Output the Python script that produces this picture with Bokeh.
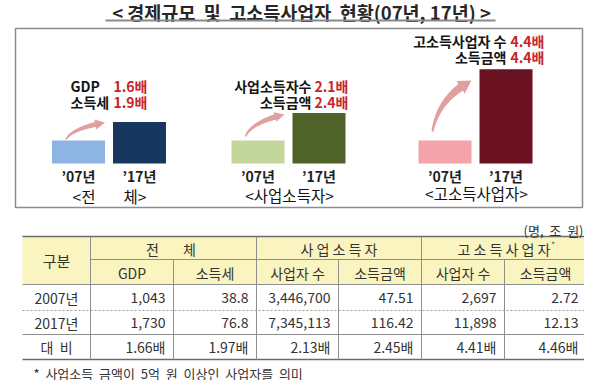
import numpy as np
from bokeh.plotting import figure
from bokeh.models import Range1d
from bokeh.core.properties import value
from bokeh.embed import file_html
from bokeh.resources import INLINE

S = "\u00a0"  # non-collapsing space

# ---------------- data ----------------
title = "<" + S + "경제규모" + S * 2 + "및" + S * 2 + "고소득사업자" + S * 2 + "현황(07년," + S + "17년)" + S + ">"
panel_captions = [["<전", "체>"], "<사업소득자>", "<고소득사업자>"]
year_labels = ["’07년", "’17년"]
bar_2007 = [1.0, 1.0, 1.0]          # relative size, 2007 = 1
bar_2017 = [1.8, 2.2, 4.1]
panel_items = [["GDP", "소득세"], ["사업소득자수", "소득금액"], ["고소득사업자" + S + "수", "소득금액"]]
panel_ratios = [["1.6배", "1.9배"], ["2.1배", "2.4배"], ["4.4배", "4.4배"]]

row_labels = ["2007년", "2017년", "대" + S * 2 + "비"]
corner_header = "구분"
group_headers = [["전", "체"], S.join("사업소득자"), S.join("고소득사업자")]
sub_headers = ["GDP", "소득세", "사업자" + S + "수", "소득금액", "사업자" + S + "수", "소득금액"]
gdp = [1043, 1730]
income_tax = [38.8, 76.8]
biz_count = [3446700, 7345113]
biz_income = [47.51, 116.42]
high_count = [2697, 11898]
high_income = [2.72, 12.13]
ratios = [1.66, 1.97, 2.13, 2.45, 4.41, 4.46]
unit_note = "(명," + S * 2 + "조" + S * 2 + "원)"
footnote = (S * 2).join(["*", "사업소득", "금액이", "5억", "원", "이상인", "사업자를", "의미"])

# ---------------- styles / layout ----------------
FONT = "Noto Sans CJK KR"
bar_colors_07 = ["#8EB4E3", "#C3D69B", "#F4A3AB"]
bar_colors_17 = ["#17375E", "#4F6228", "#6A1122"]
RED = "#C8242B"
ARROW = "#DFA0A0"
HEAD_FILL = "#FAF4C0"

W, H = 584, 380
X0, Y0 = 2, 2
p = figure(width=W, height=H, x_range=Range1d(X0, X0 + W), y_range=Range1d(Y0 + H, Y0),
           output_backend="svg", toolbar_location=None,
           x_axis_location=None, y_axis_location=None, min_border=0)
p.outline_line_color = None
p.grid.visible = False
p.background_fill_color = "white"

BASE, UNIT = 165.0, 23.0
p.extra_y_ranges = {"bars": Range1d(start=(BASE - (Y0 + H)) / UNIT, end=(BASE - Y0) / UNIT)}


def txt(x, y, t, size="14px", align="center", color="#222222", bold=False,
        baseline="middle"):
    p.text(x=x, y=y, text=t, text_font=value(FONT), text_font_size=size,
           text_align=align, text_baseline=baseline, text_color=color,
           text_font_style="bold" if bold else "normal")


# title
txt([303], [13.5], [title], size="18.5px", bold=True, color="#262626")
p.segment(x0=[107], y0=[22], x1=[497], y1=[22], line_color="#8a8a8a", line_width=2)

# frame of the top area
p.quad(left=[17], right=[584], top=[30], bottom=[209], fill_color=None,
       line_color="#8c8c8c", line_width=1.5)

# ---------------- panels ----------------
panel_cx = [110.5, 290.0, 477.0]
bar_off, bar_w = 30.5, 53
year_y = 177
caption_y = [197, 196, 194]
label_y = [[87, 103], [87, 103], [42, 58]]
label_x = [72, 313, 508]
label_align = ["left", "right", "right"]
value_x = [115, 316, 512]
tail_y = [141, 138, 133]
tip_y = [124, 116, 82]
arrow_w = [(1.5, 5, 10, 10), (1.5, 5.5, 10, 10), (2, 8, 13, 15)]


def arrow_polygon(p0, p2, w0, w1, hl, hw):
    p0 = np.array(p0, float)
    p2 = np.array(p2, float)
    d = p2 - p0
    p1 = np.array([p0[0] + 0.15 * d[0], p2[1] + 0.35 * (p0[1] - p2[1])])
    t = np.linspace(0, 1, 300)
    B = ((1 - t) ** 2)[:, None] * p0 + (2 * (1 - t) * t)[:, None] * p1 + (t ** 2)[:, None] * p2
    dist = np.linalg.norm(B - p2, axis=1)
    k = int(np.argmax(dist < hl))
    Sg = B[:k + 1]
    tang = np.gradient(Sg, axis=0)
    tang /= np.linalg.norm(tang, axis=1)[:, None]
    n = np.stack([-tang[:, 1], tang[:, 0]], axis=1)
    w = np.linspace(w0, w1, len(Sg))[:, None]
    L = Sg + n * w / 2
    R = Sg - n * w / 2
    base = Sg[-1]
    dv = (p2 - base) / np.linalg.norm(p2 - base)
    nh = np.array([-dv[1], dv[0]])
    poly = np.vstack([L, base + nh * hw / 2, p2, base - nh * hw / 2, R[::-1]])
    return list(poly[:, 0]), list(poly[:, 1])


xs07 = [c - bar_off for c in panel_cx]
xs17 = [c + bar_off for c in panel_cx]
p.vbar(x=xs07, width=bar_w, bottom=0, top=bar_2007, y_range_name="bars",
       fill_color=bar_colors_07, line_color=None)
p.vbar(x=xs17, width=bar_w, bottom=0, top=bar_2017, y_range_name="bars",
       fill_color=bar_colors_17, line_color=None)

axs, ays = [], []
for i, cx in enumerate(panel_cx):
    tail = (cx - bar_off - 12.5, tail_y[i])
    tip = (cx - bar_off + bar_w / 2, tip_y[i])
    ax, ay = arrow_polygon(tail, tip, *arrow_w[i])
    axs.append(ax)
    ays.append(ay)
p.patches(xs=axs, ys=ays, fill_color=ARROW, line_color=None)

for i, cx in enumerate(panel_cx):
    txt([xs07[i], xs17[i]], [year_y, year_y], year_labels, size="14px", bold=True, color="#1e1e1e")
    cap = panel_captions[i]
    if isinstance(cap, list):
        txt([cx - 25, cx + 26], [caption_y[i]] * 2, cap, size="15.5px", color="#111111")
    else:
        txt([cx + 1], [caption_y[i]], [cap], size="15.5px", color="#111111")
    txt([label_x[i]] * 2, label_y[i], panel_items[i], size="14px", align=label_align[i],
        bold=True, color="#151515")
    txt([value_x[i]] * 2, label_y[i], panel_ratios[i], size="14px", align="left",
        bold=True, color=RED)

# ---------------- table ----------------
TX = [24, 92, 175, 258, 340, 423, 506, 588]
TY = [238, 261, 286, 312, 336, 361]
LINE = "#8f8f8f"

p.quad(left=[TX[0]], right=[TX[-1]], top=[TY[0]], bottom=[TY[2]],
       fill_color=HEAD_FILL, line_color=None)

# horizontal lines
p.segment(x0=[TX[0]], y0=[TY[0]], x1=[TX[-1]], y1=[TY[0]], line_color="#6b6b6b", line_width=1.5)
p.segment(x0=[TX[1]], y0=[TY[1]], x1=[TX[-1]], y1=[TY[1]], line_color=LINE, line_width=1)
p.segment(x0=[TX[0], TX[0]], y0=[TY[2], TY[4]], x1=[TX[-1], TX[-1]], y1=[TY[2], TY[4]],
          line_color=LINE, line_width=1)
p.segment(x0=[TX[0]], y0=[TY[3]], x1=[TX[-1]], y1=[TY[3]], line_color="#9a9a9a",
          line_width=1, line_dash="2 2")
p.segment(x0=[TX[0]], y0=[TY[5]], x1=[TX[-1]], y1=[TY[5]], line_color="#6b6b6b", line_width=1.5)

# vertical lines
full = [TX[1], TX[3], TX[5]]
half = [TX[2], TX[4], TX[6]]
p.segment(x0=full, y0=[TY[0]] * 3, x1=full, y1=[TY[5]] * 3, line_color=LINE, line_width=1)
p.segment(x0=half, y0=[TY[1]] * 3, x1=half, y1=[TY[5]] * 3, line_color=LINE, line_width=1)

# header texts
TC = "#333333"
txt([(TX[0] + TX[1]) / 2], [(TY[0] + TY[2]) / 2], [corner_header], size="15px", color=TC)
gx = [(TX[1] + TX[3]) / 2, (TX[3] + TX[5]) / 2, (TX[5] + TX[7]) / 2]
gy = (TY[0] + TY[1]) / 2 + 0.5
txt([gx[0] - 21, gx[0] + 16], [gy, gy], group_headers[0], size="14px", color=TC)
txt(gx[1:], [gy, gy], group_headers[1:], size="14px", color=TC)
txt([gx[2] + 49], [gy - 4], ["*"], size="8px", color=TC)
sx = [(TX[c] + TX[c + 1]) / 2 for c in range(1, 7)]
txt(sx, [(TY[1] + TY[2]) / 2 + 0.5] * 6, sub_headers, size="14px", color=TC)

# body
columns = [
    ["{:,}".format(v) for v in gdp],
    ["{:.1f}".format(v) for v in income_tax],
    ["{:,}".format(v) for v in biz_count],
    ["{:.2f}".format(v) for v in biz_income],
    ["{:,}".format(v) for v in high_count],
    ["{:.2f}".format(v) for v in high_income],
]
row_y = [(TY[r] + TY[r + 1]) / 2 for r in range(2, 5)]
txt([(TX[0] + TX[1]) / 2] * 3, row_y, row_labels, size="14px", color=TC)
for c, col in enumerate(columns):
    cells = col + ["{:.2f}배".format(ratios[c])]
    txt([TX[c + 2] - 8] * 3, row_y, cells, size="14px", align="right", color=TC)

txt([585], [232], [unit_note], size="13px", align="right", color=TC)
txt([35], [374.5], [footnote], size="13px", align="left", color=TC, baseline="alphabetic")

open("out.html", "w").write(file_html(p, INLINE))
